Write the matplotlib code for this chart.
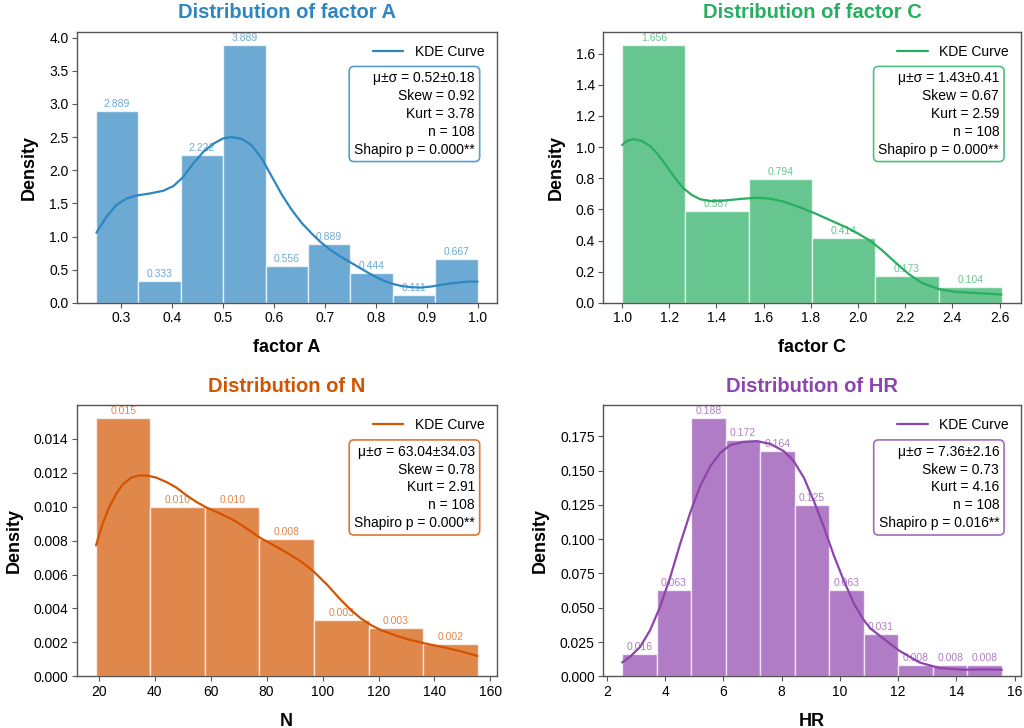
import matplotlib
matplotlib.use("Agg")
import matplotlib.pyplot as plt
import numpy as np

plt.rcParams['font.family'] = ['Liberation Sans', 'DejaVu Sans']

# --- bar heights (density) and bin ranges ---
a_dens = [2.889, 0.333, 2.222, 3.889, 0.556, 0.889, 0.444, 0.111, 0.667]
a_range = (0.25, 1.0)
c_dens = [1.656, 0.587, 0.794, 0.414, 0.173, 0.104]
c_range = (1.0, 2.61)
n_dens = [0.0152, 0.00998, 0.00998, 0.00808, 0.00333, 0.00285, 0.0019]
n_range = (19.0, 155.4)
hr_dens = [0.016, 0.063, 0.188, 0.172, 0.164, 0.125, 0.063, 0.031, 0.008, 0.008, 0.008]
hr_range = (2.52, 15.56)

# --- KDE curves ---
a_kde_x = [0.251, 0.271, 0.290, 0.310, 0.330, 0.356, 0.382, 0.402, 0.422, 0.441, 0.461,
           0.481, 0.500, 0.517, 0.537, 0.556, 0.576, 0.596, 0.616, 0.635, 0.655, 0.675,
           0.691, 0.711, 0.731, 0.750, 0.770, 0.790, 0.809, 0.829, 0.849, 0.869, 0.888,
           0.908, 0.928, 0.954, 0.981, 1.0]
a_kde_y = [1.057, 1.30, 1.474, 1.574, 1.619, 1.649, 1.689, 1.759, 1.90, 2.10, 2.275,
           2.40, 2.48, 2.50, 2.47, 2.376, 2.175, 1.90, 1.624, 1.40, 1.20, 1.038,
           0.92, 0.797, 0.696, 0.611, 0.521, 0.431, 0.356, 0.296, 0.256, 0.236, 0.23,
           0.245, 0.271, 0.30, 0.32, 0.32]
c_kde_x = [1.0, 1.02, 1.048, 1.083, 1.119, 1.154, 1.190, 1.225, 1.260, 1.296, 1.331,
           1.373, 1.430, 1.50, 1.571, 1.628, 1.684, 1.755, 1.826, 1.896, 1.953, 2.0,
           2.05, 2.10, 2.158, 2.215, 2.271, 2.342, 2.413, 2.512, 2.608]
c_kde_y = [1.013, 1.04, 1.051, 1.04, 1.006, 0.949, 0.874, 0.80, 0.735, 0.692, 0.665,
           0.654, 0.656, 0.667, 0.675, 0.669, 0.65, 0.613, 0.569, 0.521, 0.483, 0.445,
           0.400, 0.34, 0.26, 0.185, 0.128, 0.088, 0.0705, 0.062, 0.053]
n_kde_x = [19.06, 21.4, 23.8, 26.3, 28.6, 31.7, 34.6, 37.6, 40.6, 44.2, 47.8, 51.4,
           55.0, 58.6, 63.4, 68.2, 73.0, 77.8, 82.6, 87.4, 92.2, 97.0, 101.8, 106.6,
           110.2, 113.7, 117.3, 120.9, 125.7, 130.5, 136.5, 142.5, 148.5, 155.4]
n_kde_y = [0.00772, 0.0090, 0.00998, 0.01076, 0.01131, 0.01171, 0.01184, 0.01182,
           0.01171, 0.01145, 0.01112, 0.01066, 0.01027, 0.00994, 0.00959, 0.0092,
           0.0087, 0.00815, 0.00772, 0.00727, 0.00678, 0.00615, 0.00537, 0.00449,
           0.0039, 0.00341, 0.00302, 0.00272, 0.00243, 0.00218, 0.00194, 0.00174,
           0.00151, 0.0012]
hr_kde_x = [2.52, 2.79, 3.14, 3.48, 3.82, 4.17, 4.51, 4.86, 5.20, 5.55, 5.89, 6.23,
            6.69, 7.15, 7.61, 8.07, 8.41, 8.76, 9.10, 9.45, 9.79, 10.13, 10.48, 10.82,
            11.05, 11.4, 12.04, 12.73, 13.42, 14.22, 15.02, 15.56]
hr_kde_y = [0.0101, 0.0142, 0.0215, 0.0336, 0.0505, 0.0722, 0.0964, 0.1194, 0.1387,
            0.1532, 0.1629, 0.1685, 0.1709, 0.1714, 0.1694, 0.1641, 0.1569, 0.1448,
            0.1279, 0.1085, 0.088, 0.0698, 0.0529, 0.0408, 0.0348, 0.029, 0.0186,
            0.0101, 0.006, 0.0048, 0.0051, 0.0048]

# --- stats text ---
a_stats = ["μ±σ = 0.52±0.18", "Skew = 0.92", "Kurt = 3.78", "n = 108", "Shapiro p = 0.000**"]
c_stats = ["μ±σ = 1.43±0.41", "Skew = 0.67", "Kurt = 2.59", "n = 108", "Shapiro p = 0.000**"]
n_stats = ["μ±σ = 63.04±34.03", "Skew = 0.78", "Kurt = 2.91", "n = 108", "Shapiro p = 0.000**"]
hr_stats = ["μ±σ = 7.36±2.16", "Skew = 0.73", "Kurt = 4.16", "n = 108", "Shapiro p = 0.016**"]

panels = [
    ("factor A", a_dens, a_range, a_kde_x, a_kde_y, a_stats, "#2E86C1", [0.075, 0.584, 0.410, 0.372]),
    ("factor C", c_dens, c_range, c_kde_x, c_kde_y, c_stats, "#27AE60", [0.589, 0.584, 0.408, 0.372]),
    ("N", n_dens, n_range, n_kde_x, n_kde_y, n_stats, "#D35400", [0.075, 0.071, 0.410, 0.372]),
    ("HR", hr_dens, hr_range, hr_kde_x, hr_kde_y, hr_stats, "#8E44AD", [0.589, 0.071, 0.408, 0.372]),
]

fig = plt.figure(figsize=(10.24, 7.28), dpi=100)

for name, dens, rng, kx, ky, stats, color, pos in panels:
    ax = fig.add_axes(pos)
    edges = np.linspace(rng[0], rng[1], len(dens) + 1)
    widths = np.diff(edges)
    ax.bar(edges[:-1], dens, width=widths, align='edge', color=color, alpha=0.7,
           edgecolor='white', linewidth=1.0)
    for x0, w, h in zip(edges[:-1], widths, dens):
        ax.annotate(f"{h:.3f}", (x0 + w / 2, h), xytext=(0, 1.5), textcoords='offset points',
                    ha='center', va='bottom', fontsize=7.5, color=color, alpha=0.7)
    ax.plot(kx, ky, color=color, linewidth=1.6, label="KDE Curve",
            solid_joinstyle='round', solid_capstyle='round')

    ax.set_title(f"Distribution of {name}", fontsize=14.5, fontweight='bold', color=color, pad=10)
    ax.set_xlabel(name, fontsize=13, fontweight='bold', labelpad=10)
    ax.set_ylabel("Density", fontsize=13, fontweight='bold', labelpad=8)
    ax.tick_params(labelsize=10, color='#555555', length=3.5, pad=2.5)
    for sp in ax.spines.values():
        sp.set_color('#555555')
        sp.set_linewidth(1.0)

    ax.legend(loc='upper right', frameon=False, fontsize=10, handlelength=2.2)
    ax.text(0.948, 0.855, "\n".join(stats), transform=ax.transAxes, ha='right', va='top',
            fontsize=10, linespacing=1.35, multialignment='right',
            bbox=dict(boxstyle='round,pad=0.35', facecolor='white', edgecolor=color,
                      alpha=0.8, linewidth=1.2))

fig.savefig("out.png", dpi=100)
